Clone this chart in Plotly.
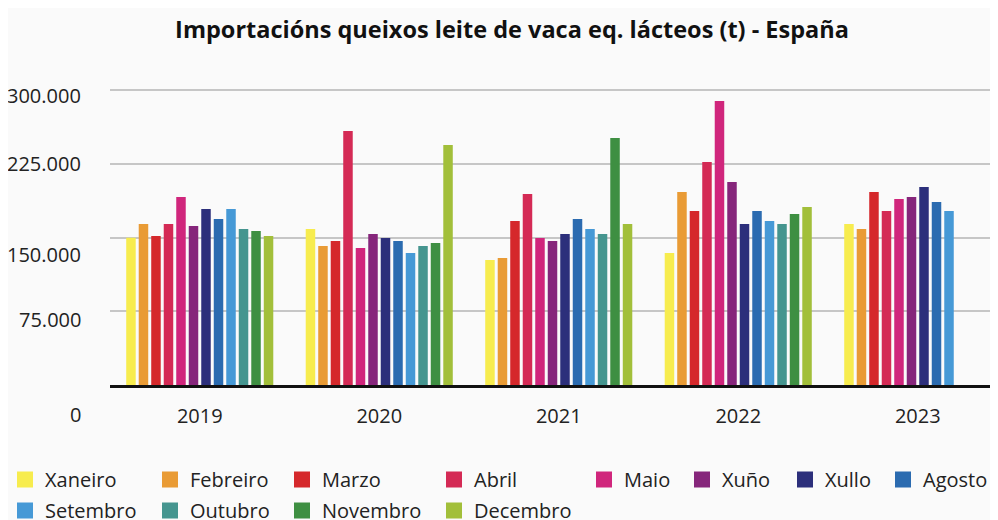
import plotly.graph_objects as go

years = ["2019", "2020", "2021", "2022", "2023"]
months = ["Xaneiro", "Febreiro", "Marzo", "Abril", "Maio", "Xuño",
          "Xullo", "Agosto", "Setembro", "Outubro", "Novembro", "Decembro"]
colors = ["#f7ec4e", "#e99b35", "#d5282b", "#d42a55", "#d0267c", "#86267b",
          "#2c2f7b", "#2b6bb0", "#4699d6", "#45958f", "#3e8f42", "#a2bf3a"]

# values (t) per month, one entry per year
xaneiro = [149800, 158600, 127100, 134300, 163800]
febreiro = [163800, 141300, 129200, 196300, 158600]
marzo = [151500, 146500, 166800, 177000, 196300]
abril = [163800, 258300, 194300, 226800, 177000]
maio = [191200, 139300, 149500, 288800, 189100]
xuno = [161700, 153500, 146500, 206400, 191200]
xullo = [179000, 149500, 153500, 163800, 201300]
agosto = [168800, 146500, 168800, 177000, 186100]
setembro = [179000, 134300, 158600, 166800, 177000]
outubro = [158600, 141300, 153500, 163800, None]
novembro = [156600, 144400, 251200, 173900, None]
decembro = [151500, 244100, 163800, 181100, None]
series = [xaneiro, febreiro, marzo, abril, maio, xuno,
          xullo, agosto, setembro, outubro, novembro, decembro]

ytick_vals = [0, 75000, 150000, 225000, 300000]
ytick_text = ["0", "75.000", "150.000", "225.000", "300.000"]
ytick_shift = [29, 8, 17, 0, 5]   # label offset below the gridline (px)

FONT = "Open Sans"
TXT = "#222222"
OFF = 8                      # page body margin of the browser
W, H = 998 - OFF, 520 - OFF
ML, MR, MT = 110 - OFF, 0, 60 - OFF
PW = W - ML - MR
PH = 325
MB = H - MT - PH
YMAX = 300000 * PH / 295

# legend columns (pixel position of swatch centres, page coordinates)
legend_cols_px = [25, 170, 302, 454, 604, 702, 805, 903]
legend_top_px = 460

fig = go.Figure()
for i, (m, c, vals) in enumerate(zip(months, colors, series)):
    fig.add_trace(go.Bar(x=years, y=vals, name=m, marker_color=c,
                         marker_line_width=0, showlegend=False))

for i, (m, c) in enumerate(zip(months, colors)):
    col = i if i < 8 else i - 8
    lg = "legend" if col == 0 else f"legend{col + 1}"
    fig.add_trace(go.Scatter(x=[None], y=[None], mode="markers", name=m,
                             marker=dict(symbol="square", size=16, color=c),
                             legend=lg, legendgroup=m, showlegend=True))

legend_common = dict(
    orientation="v", bgcolor="rgba(0,0,0,0)", borderwidth=0,
    font=dict(family=FONT, size=20, color=TXT),
    xanchor="left", yanchor="top", traceorder="grouped", tracegroupgap=2,
    itemclick=False, itemdoubleclick=False,
)
layout_legends = {}
for col, px in enumerate(legend_cols_px):
    key = "legend" if col == 0 else f"legend{col + 1}"
    layout_legends[key] = dict(
        legend_common,
        x=(px - OFF - 20 - ML) / PW,
        y=-(legend_top_px - OFF - (MT + PH)) / PH,
    )

annotations = []
for v, t, s in zip(ytick_vals, ytick_text, ytick_shift):
    annotations.append(dict(
        x=0, xref="paper", y=v, yref="y", text=t, showarrow=False,
        xanchor="right", yanchor="middle", xshift=-27, yshift=-s,
        font=dict(family=FONT, size=20, color=TXT)))

fig.update_layout(
    width=W, height=H,
    margin=dict(l=ML, r=MR, t=MT, b=MB, pad=0, autoexpand=False),
    paper_bgcolor="#fafafa", plot_bgcolor="#fafafa",
    barmode="group", bargap=0.164, bargroupgap=0.24,
    title=dict(text="<b>Importacións queixos leite de vaca eq. lácteos (t) - España</b>",
               x=(512 - OFF) / W, xanchor="center", xref="container",
               y=1 - (30 - OFF) / H, yanchor="middle", yref="container",
               font=dict(family=FONT, size=23.5, color="#111111")),
    xaxis=dict(type="category", range=[-0.5, -0.5 + PW / 179.5],
               showgrid=False, showline=True, linecolor="#111111", linewidth=3,
               ticks="", ticklabelstandoff=11,
               tickfont=dict(family=FONT, size=20, color=TXT)),
    yaxis=dict(range=[0, YMAX], tickvals=[75000, 150000, 225000, 300000],
               showticklabels=False, showgrid=True, gridcolor="#c6c6c6",
               gridwidth=1.5, zeroline=False),
    annotations=annotations,
    showlegend=True,
    **layout_legends,
)

fig.write_html("out.html")
